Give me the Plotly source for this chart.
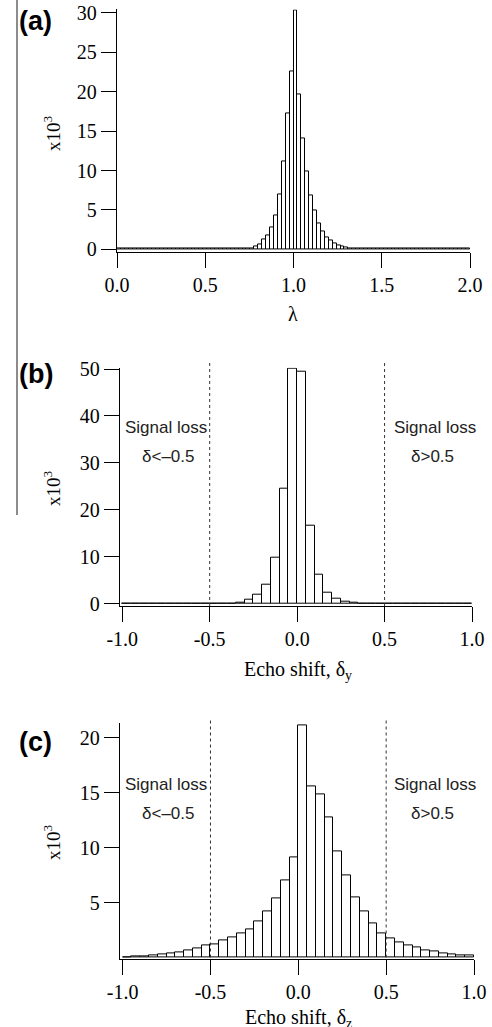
import plotly.graph_objects as go

# ---------------- data ----------------
# (a) histogram of lambda, 90 bins over [0, 2]
lambda_bin_width = 2 / 90
lambda_counts = [
    0.05, 0.05, 0.05, 0.05, 0.05, 0.05, 0.05, 0.05, 0.05, 0.05,
    0.05, 0.05, 0.05, 0.05, 0.05, 0.05, 0.05, 0.05, 0.05, 0.05,
    0.05, 0.05, 0.05, 0.05, 0.05, 0.05, 0.05, 0.05, 0.05, 0.05,
    0.05, 0.05, 0.05, 0.08, 0.15, 0.3, 0.6, 1.2, 1.8, 2.75,
    4.3, 7.0, 11.2, 17.3, 22.6, 30.35, 19.6, 14.1, 9.9, 6.8,
    4.9, 3.3, 2.3, 1.5, 1.1, 0.7, 0.45, 0.3, 0.2, 0.12,
    0.08, 0.05, 0.05, 0.05, 0.05, 0.05, 0.05, 0.05, 0.05, 0.05,
    0.05, 0.05, 0.05, 0.05, 0.05, 0.05, 0.05, 0.05, 0.05, 0.05,
    0.05, 0.05, 0.05, 0.05, 0.05, 0.05, 0.05, 0.05, 0.05, 0.05,
]
lambda_centers = [lambda_bin_width * (k + 0.5) for k in range(len(lambda_counts))]

# (b) echo shift delta_y, 40 bins of 0.05 over [-1, 1]
shift_bin_width = 0.05
dy_counts = [
    0.1, 0.1, 0.1, 0.1, 0.1, 0.1, 0.1, 0.1, 0.1, 0.1,
    0.1, 0.1, 0.1, 0.3, 0.8, 1.85, 4.0, 9.7, 24.6, 50.0,
    49.4, 16.6, 6.1, 2.4, 1.1, 0.4, 0.15, 0.1, 0.1, 0.1,
    0.1, 0.1, 0.1, 0.1, 0.1, 0.1, 0.1, 0.1, 0.1, 0.1,
]
# (c) echo shift delta_z
dz_counts = [
    0.05, 0.1, 0.16, 0.22, 0.3, 0.38, 0.48, 0.62, 0.82, 1.1,
    1.2, 1.6, 1.85, 2.2, 2.6, 3.3, 4.25, 5.35, 7.0, 9.1,
    21.15, 15.6, 14.85, 12.8, 9.7, 7.5, 5.5, 4.2, 3.1, 2.2,
    1.8, 1.35, 1.1, 0.95, 0.7, 0.55, 0.42, 0.33, 0.25, 0.2,
]
shift_centers = [-1 + shift_bin_width * (i + 0.5) for i in range(len(dy_counts))]

lambda_ticks = [0.0, 0.5, 1.0, 1.5, 2.0]
lambda_ticktext = ["0.0", "0.5", "1.0", "1.5", "2.0"]
shift_ticks = [-1.0, -0.5, 0.0, 0.5, 1.0]
shift_ticktext = ["-1.0", "-0.5", "0.0", "0.5", "1.0"]
a_yticks = [0, 5, 10, 15, 20, 25, 30]
b_yticks = [0, 10, 20, 30, 40, 50]
c_yticks = [5, 10, 15, 20]
loss_threshold = 0.5

# ---------------- figure ----------------
W, H = 492, 1027
SERIF = "Liberation Serif, Times New Roman, serif"
SANS = "Liberation Sans, Arial, sans-serif"


def px(x):
    return x / W


def py(y):
    return 1 - y / H


bar_style = dict(color="white", line=dict(color="black", width=1))

fig = go.Figure()
fig.add_trace(go.Bar(x=lambda_centers, y=lambda_counts, width=lambda_bin_width,
                     marker=bar_style, xaxis="x", yaxis="y", showlegend=False))
fig.add_trace(go.Bar(x=shift_centers, y=dy_counts, width=shift_bin_width,
                     marker=bar_style, xaxis="x2", yaxis="y2", showlegend=False))
fig.add_trace(go.Bar(x=shift_centers, y=dz_counts, width=shift_bin_width,
                     marker=bar_style, xaxis="x3", yaxis="y3", showlegend=False))

tickfont = dict(family=SERIF, size=20, color="black")
common_axis = dict(showline=True, linecolor="black", linewidth=1.3, ticks="outside",
                   ticklen=15, tickwidth=1, tickcolor="black", showgrid=False,
                   zeroline=False, tickfont=tickfont, fixedrange=True,
                   automargin=False)

fig.update_layout(
    template="none",
    width=W, height=H, autosize=False,
    margin=dict(l=0, r=0, t=0, b=0, pad=0, autoexpand=False),
    paper_bgcolor="white", plot_bgcolor="white",
    bargap=0, showlegend=False,
    xaxis=dict(domain=[px(117), px(470)], range=[0, 2], anchor="y",
               tickvals=lambda_ticks, ticktext=lambda_ticktext, **common_axis),
    yaxis=dict(domain=[py(252.06), py(9.45)], range=[-0.35, 30.45], anchor="x",
               tickvals=a_yticks, **common_axis),
    xaxis2=dict(domain=[px(120), px(472)], range=[-1.013, 1.0], anchor="y2",
                tickvals=shift_ticks, ticktext=shift_ticktext, **common_axis),
    yaxis2=dict(domain=[py(606), py(367.7)], range=[-0.49, 50.28], anchor="x2",
                tickvals=b_yticks, **common_axis),
    xaxis3=dict(domain=[px(120), px(474)], range=[-1.015, 1.0], anchor="y3",
                tickvals=shift_ticks, ticktext=shift_ticktext, **common_axis),
    yaxis3=dict(domain=[py(958.8), py(723.4)], range=[-0.1, 21.3], anchor="x3",
                tickvals=c_yticks, **common_axis),
)

# dotted signal-loss boundaries
shapes = []
for xa, ytop, ybot in (("x2", 363, 606), ("x3", 720, 957.5)):
    for xv in (-loss_threshold, loss_threshold):
        shapes.append(dict(type="line", xref=xa, yref="paper", x0=xv, x1=xv,
                           y0=py(ybot), y1=py(ytop),
                           line=dict(color="#333333", width=1, dash="dot")))
# thin vertical rule at the left edge
shapes.append(dict(type="line", xref="paper", yref="paper", x0=px(17), x1=px(17),
                   y0=py(515), y1=1, line=dict(color="#666666", width=1.5)))
fig.update_layout(shapes=shapes)

ann = []


def add_text(text, x, y, font, angle=0, xanchor="center", yanchor="middle"):
    ann.append(dict(text=text, x=px(x), y=py(y), xref="paper", yref="paper",
                    showarrow=False, font=font, textangle=angle,
                    xanchor=xanchor, yanchor=yanchor))


panel_font = dict(family=SANS, size=27, color="black")
add_text("<b>(a)</b>", 35, 21, panel_font)
add_text("<b>(b)</b>", 36, 374, panel_font)
add_text("<b>(c)</b>", 35, 742, panel_font)

title_font = dict(family=SERIF, size=19, color="black")
for yc in (133, 488, 842):
    add_text("x10<sup>3</sup>", 52, yc, title_font, angle=-90)

xt_font = dict(family=SERIF, size=20, color="black")
add_text("λ", 293, 314, xt_font)
add_text("Echo shift, δ<sub>y</sub>", 298, 656, xt_font, yanchor="top")
add_text("Echo shift, δ<sub>z</sub>", 298, 1004, xt_font, yanchor="top")

loss_font = dict(family=SANS, size=17, color="#222222")
for ys, yd in ((427, 456), (784, 813)):
    add_text("Signal loss", 166, ys, loss_font)
    add_text("δ&lt;–0.5", 168, yd, loss_font)
    add_text("Signal loss", 435, ys, loss_font)
    add_text("δ&gt;0.5", 432, yd, loss_font)

fig.update_layout(annotations=ann)

fig.write_html(
    "out.html",
    config={"responsive": False, "displayModeBar": False},
    post_script="document.body.style.margin='0px';document.body.style.overflow='hidden';",
)
